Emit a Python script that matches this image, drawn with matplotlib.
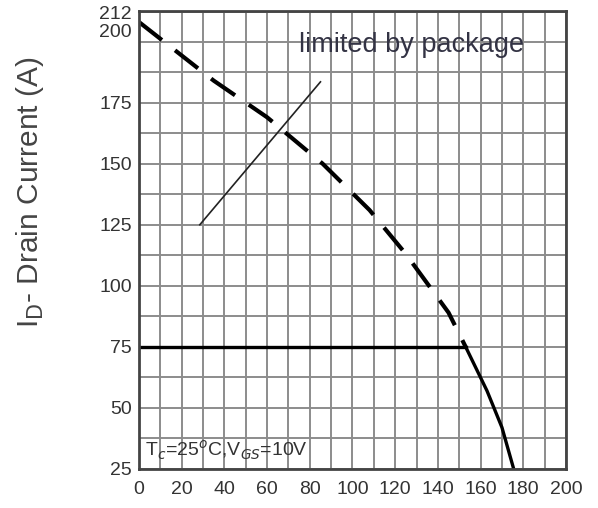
import matplotlib.pyplot as plt
from matplotlib.transforms import ScaledTranslation
import numpy as np

# drain current derating curve
curve_tc = [0, 35, 60, 86, 108, 125, 145, 153]
curve_id = [208, 184, 169, 150, 131, 113, 89, 75]
tail_tc = [153, 163, 170, 175.5]
tail_id = [75, 57, 42, 25]

# package limit
limit_tc = [0, 153]
limit_id = [75, 75]

# pointer line to the label
arrow_tc = [28.5, 85]
arrow_id = [125, 183.5]

yticks = [25, 50, 75, 100, 125, 150, 175, 200, 212]
xticks = [0, 20, 40, 60, 80, 100, 120, 140, 160, 180, 200]

plt.rcParams['font.family'] = ['Liberation Sans', 'DejaVu Sans']

fig = plt.figure(figsize=(5.98, 5.08), dpi=100)
ax = fig.add_axes([0.2324, 0.0768, 0.7141, 0.9015])

ax.set_xlim(0, 200)
ax.set_ylim(25, 212.5)
ax.set_xticks(np.arange(0, 201, 10), minor=True)
ax.set_yticks(np.arange(25, 212.6, 12.5), minor=True)
ax.set_xticks(xticks)
ax.set_yticks(yticks)
ax.grid(which='both', color='#8c8c8c', lw=1.4)
ax.tick_params(which='both', length=0, labelsize=14, labelcolor='#333333', pad=5)
ax.tick_params(axis='x', pad=9)
ax.set_axisbelow(True)
for s in ax.spines.values():
    s.set_color('#444444')
    s.set_linewidth(2)

# nudge the crowded 200 label up a bit
for lab in ax.get_yticklabels():
    if lab.get_text() == '200':
        lab.set_transform(lab.get_transform() + ScaledTranslation(0, 8 / 72, fig.dpi_scale_trans))

ax.plot(curve_tc, curve_id, color='black', lw=3, linestyle=(0, (7, 4)))
ax.plot(tail_tc, tail_id, color='black', lw=2.4, solid_capstyle='butt')
ax.plot(limit_tc, limit_id, color='black', lw=2.4)
ax.plot(arrow_tc, arrow_id, color='#222222', lw=1.2)

ax.text(75, 198.5, 'limited by package', fontsize=19.5, color='#333344', va='center')
ax.text(3, 30, r'T$_c$=25$^o$C,V$_{GS}$=10V', fontsize=14, color='#333333')

ax.set_ylabel(r'I$_\mathrm{D}$- Drain Current (A)', fontsize=21.5, color='#444444')
ax.yaxis.set_label_coords(-0.218, 0.604)

fig.savefig('out.png')
